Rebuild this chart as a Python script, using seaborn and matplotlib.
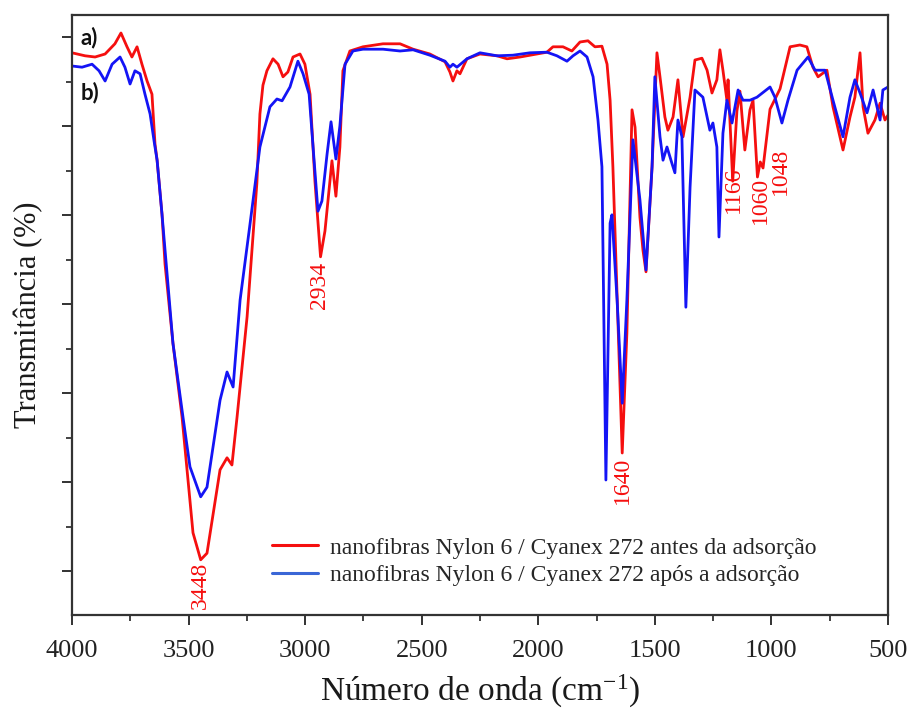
import matplotlib
matplotlib.use("Agg")
import matplotlib.pyplot as plt
from matplotlib.lines import Line2D
import numpy as np
import pandas as pd
import seaborn as sns

# ---------------- data ----------------
wn_antes = [4000, 3944, 3901, 3858, 3816, 3790, 3764, 3743, 3721, 3700,
            3678, 3657, 3644, 3635, 3614, 3601, 3567, 3528, 3481, 3448,
            3421, 3365, 3335, 3314, 3292, 3249, 3228, 3207, 3194, 3181,
            3164, 3138, 3116, 3095, 3074, 3052, 3022, 3001, 2979, 2958,
            2934, 2915, 2885, 2868, 2851, 2838, 2808, 2752, 2666, 2593,
            2537, 2465, 2400, 2379, 2366, 2349, 2336, 2306, 2250, 2177,
            2134, 2078, 2006, 1963, 1937, 1894, 1856, 1821, 1787, 1757,
            1727, 1705, 1692, 1680, 1640, 1620, 1598, 1585, 1564, 1551,
            1538, 1512, 1491, 1478, 1457, 1444, 1422, 1401, 1392, 1379,
            1349, 1328, 1298, 1276, 1255, 1234, 1221, 1208, 1191, 1186,
            1166, 1148, 1135, 1114, 1092, 1079, 1060, 1048, 1036, 1006,
            963, 920, 878, 848, 822, 800, 762, 736, 693, 663,
            642, 620, 607, 586, 556, 534, 513, 500]
t_antes = [93.7, 93.2, 93.0, 93.5, 95.2, 97.0, 94.7, 93.0, 94.7, 91.8,
           89.0, 86.8, 78.5, 75.8, 66.8, 58.5, 45.3, 33.0, 13.7, 9.2,
           10.3, 24.2, 26.2, 25.0, 33.0, 49.7, 60.8, 72.0, 83.5, 88.3,
           90.7, 92.7, 91.8, 89.7, 90.5, 93.0, 93.5, 91.8, 86.8, 72.3,
           59.7, 64.0, 75.7, 69.8, 78.0, 90.7, 94.0, 94.7, 95.2, 95.2,
           94.3, 93.5, 92.2, 90.5, 89.0, 90.7, 90.2, 92.7, 93.5, 93.2,
           92.7, 93.0, 93.5, 93.8, 94.7, 94.7, 94.0, 95.5, 95.7, 94.7,
           94.8, 91.8, 85.8, 74.7, 27.0, 47.0, 84.2, 81.3, 66.3, 60.8,
           57.2, 74.7, 93.7, 89.7, 83.0, 80.8, 83.0, 89.2, 85.3, 79.7,
           86.3, 92.5, 92.8, 90.8, 87.0, 89.2, 94.2, 90.8, 85.8, 89.2,
           72.3, 84.0, 87.3, 77.5, 84.2, 85.8, 73.0, 75.5, 74.5, 84.3,
           87.7, 94.7, 95.0, 94.7, 91.3, 89.7, 90.8, 84.7, 77.5, 83.0,
           86.3, 93.7, 84.7, 80.3, 82.5, 85.3, 82.5, 83.3]

wn_apos = [4000, 3957, 3914, 3884, 3858, 3828, 3794, 3773, 3751, 3730,
           3708, 3687, 3665, 3648, 3635, 3614, 3567, 3524, 3494, 3448,
           3421, 3365, 3335, 3309, 3279, 3237, 3194, 3151, 3121, 3099,
           3065, 3031, 3009, 2983, 2966, 2945, 2928, 2906, 2889, 2868,
           2851, 2829, 2795, 2752, 2666, 2593, 2537, 2465, 2400, 2379,
           2366, 2349, 2306, 2250, 2177, 2109, 2036, 1963, 1920, 1877,
           1851, 1821, 1791, 1765, 1744, 1727, 1710, 1692, 1684, 1662,
           1640, 1620, 1594, 1564, 1538, 1512, 1500, 1478, 1465, 1448,
           1427, 1414, 1401, 1384, 1367, 1349, 1328, 1294, 1264, 1251,
           1234, 1225, 1208, 1191, 1169, 1143, 1122, 1092, 1062, 1006,
           985, 955, 929, 890, 843, 813, 770, 736, 693, 663,
           642, 620, 590, 564, 534, 522, 500]
t_apos = [91.5, 91.3, 91.8, 90.7, 89.0, 91.8, 93.0, 91.3, 88.5, 90.7,
          90.2, 86.8, 83.5, 79.0, 75.8, 66.8, 45.3, 33.0, 24.7, 19.7,
          21.3, 35.8, 40.5, 38.0, 52.5, 65.0, 78.0, 84.7, 86.0, 85.7,
          88.0, 92.3, 90.2, 86.8, 78.0, 67.3, 69.0, 76.8, 82.2, 76.0,
          81.5, 91.8, 94.0, 94.3, 94.3, 94.0, 94.2, 93.3, 92.3, 91.3,
          91.8, 91.3, 92.7, 93.7, 93.2, 93.3, 93.7, 93.8, 93.2, 92.3,
          93.2, 94.0, 93.0, 89.7, 82.5, 74.7, 22.5, 65.3, 66.7, 52.5,
          35.3, 52.5, 79.2, 69.2, 57.5, 74.7, 89.7, 79.7, 75.8, 78.0,
          75.3, 73.7, 82.5, 79.7, 51.3, 71.3, 87.5, 86.3, 80.8, 82.0,
          78.0, 63.0, 80.3, 85.8, 82.0, 87.5, 85.8, 85.8, 86.3, 88.0,
          86.3, 82.0, 85.8, 90.8, 93.0, 90.8, 90.8, 85.8, 79.7, 86.3,
          89.2, 87.0, 83.7, 87.5, 82.5, 87.5, 88.0]

series_names = ["nanofibras Nylon 6 / Cyanex 272 antes da adsorção",
                "nanofibras Nylon 6 / Cyanex 272 após a adsorção"]

peak_labels = ["3448", "2934", "1640", "1166", "1060", "1048"]
peak_label_x = [3448, 2938, 1637, 1165, 1049, 963]
peak_label_top = [8.8, 58.8, 26.3, 74.7, 73.0, 77.8]

xticks = [4000, 3500, 3000, 2500, 2000, 1500, 1000, 500]

# ---------------- style ----------------
sns.set_theme(style="ticks")
plt.rcParams["font.family"] = ["Liberation Serif", "DejaVu Serif"]
plt.rcParams["mathtext.fontset"] = "custom"
plt.rcParams["mathtext.rm"] = "Liberation Serif"
plt.rcParams["mathtext.it"] = "Liberation Serif:italic"

df = pd.concat([
    pd.DataFrame({"wn": wn_antes, "T": t_antes, "serie": series_names[0]}),
    pd.DataFrame({"wn": wn_apos, "T": t_apos, "serie": series_names[1]}),
], ignore_index=True)

red = "#f50f0f"
blue = "#1414f5"

fig = plt.figure(figsize=(9.10, 7.13), dpi=100)
ax = fig.add_axes([72 / 910, 1 - 615 / 713, 816 / 910, 600 / 713])

sns.lineplot(data=df, x="wn", y="T", hue="serie",
             palette={series_names[0]: red, series_names[1]: blue},
             estimator=None, sort=False, linewidth=2.0, legend=False, ax=ax)

ax.set_xlim(4000, 500)
ax.set_ylim(0, 100)

ax.set_xticks(xticks)
ax.set_xticklabels([str(v) for v in xticks])
ax.set_xticks(np.arange(3750, 500, -500), minor=True)
major_y = np.arange(7.33, 100, 14.83)
ax.set_yticks(major_y)
ax.set_yticklabels([])
ax.set_yticks(major_y[:-1] + 14.83 / 2, minor=True)

ax.tick_params(axis="x", which="major", length=7, width=1.3, labelsize=19,
               pad=11, colors="#222222", direction="out")
ax.tick_params(axis="x", which="minor", length=4.5, width=1.2,
               colors="#222222", direction="out")
ax.tick_params(axis="y", which="major", length=7, width=1.3,
               colors="#222222", direction="out")
ax.tick_params(axis="y", which="minor", length=4.5, width=1.2,
               colors="#222222", direction="out")
ax.tick_params(bottom=True, left=True, top=False, right=False)

for s in ax.spines.values():
    s.set_visible(True)
    s.set_linewidth(1.6)
    s.set_color("#333333")

ax.set_xlabel("Número de onda (cm$^{\\mathrm{-1}}$)", fontsize=24, labelpad=8,
              color="#1a1a1a")
ax.set_ylabel("Transmitância (%)", fontsize=22, labelpad=10, color="#1a1a1a")

for lab, x, y in zip(peak_labels, peak_label_x, peak_label_top):
    ax.text(x, y, lab, rotation=90, ha="center", va="top", color=red,
            fontsize=17)

ax.text(0.010, 0.963, "a)", transform=ax.transAxes, fontsize=16,
        fontweight="bold", family=["Lato", "DejaVu Sans"], va="center",
        ha="left", color="#111111")
ax.text(0.010, 0.870, "b)", transform=ax.transAxes, fontsize=16,
        fontweight="bold", family=["Lato", "DejaVu Sans"], va="center",
        ha="left", color="#111111")

handles = [Line2D([], [], color=red, lw=2.2),
           Line2D([], [], color="#3a66d6", lw=2.2)]
ax.legend(handles, series_names, loc="upper left",
          bbox_to_anchor=((272 - 72) / 816, (615 - 537) / 600),
          frameon=False, fontsize=17, handlelength=1.95, handletextpad=0.5,
          labelspacing=0.25, borderpad=0, borderaxespad=0)

fig.savefig("out.png", dpi=100)
